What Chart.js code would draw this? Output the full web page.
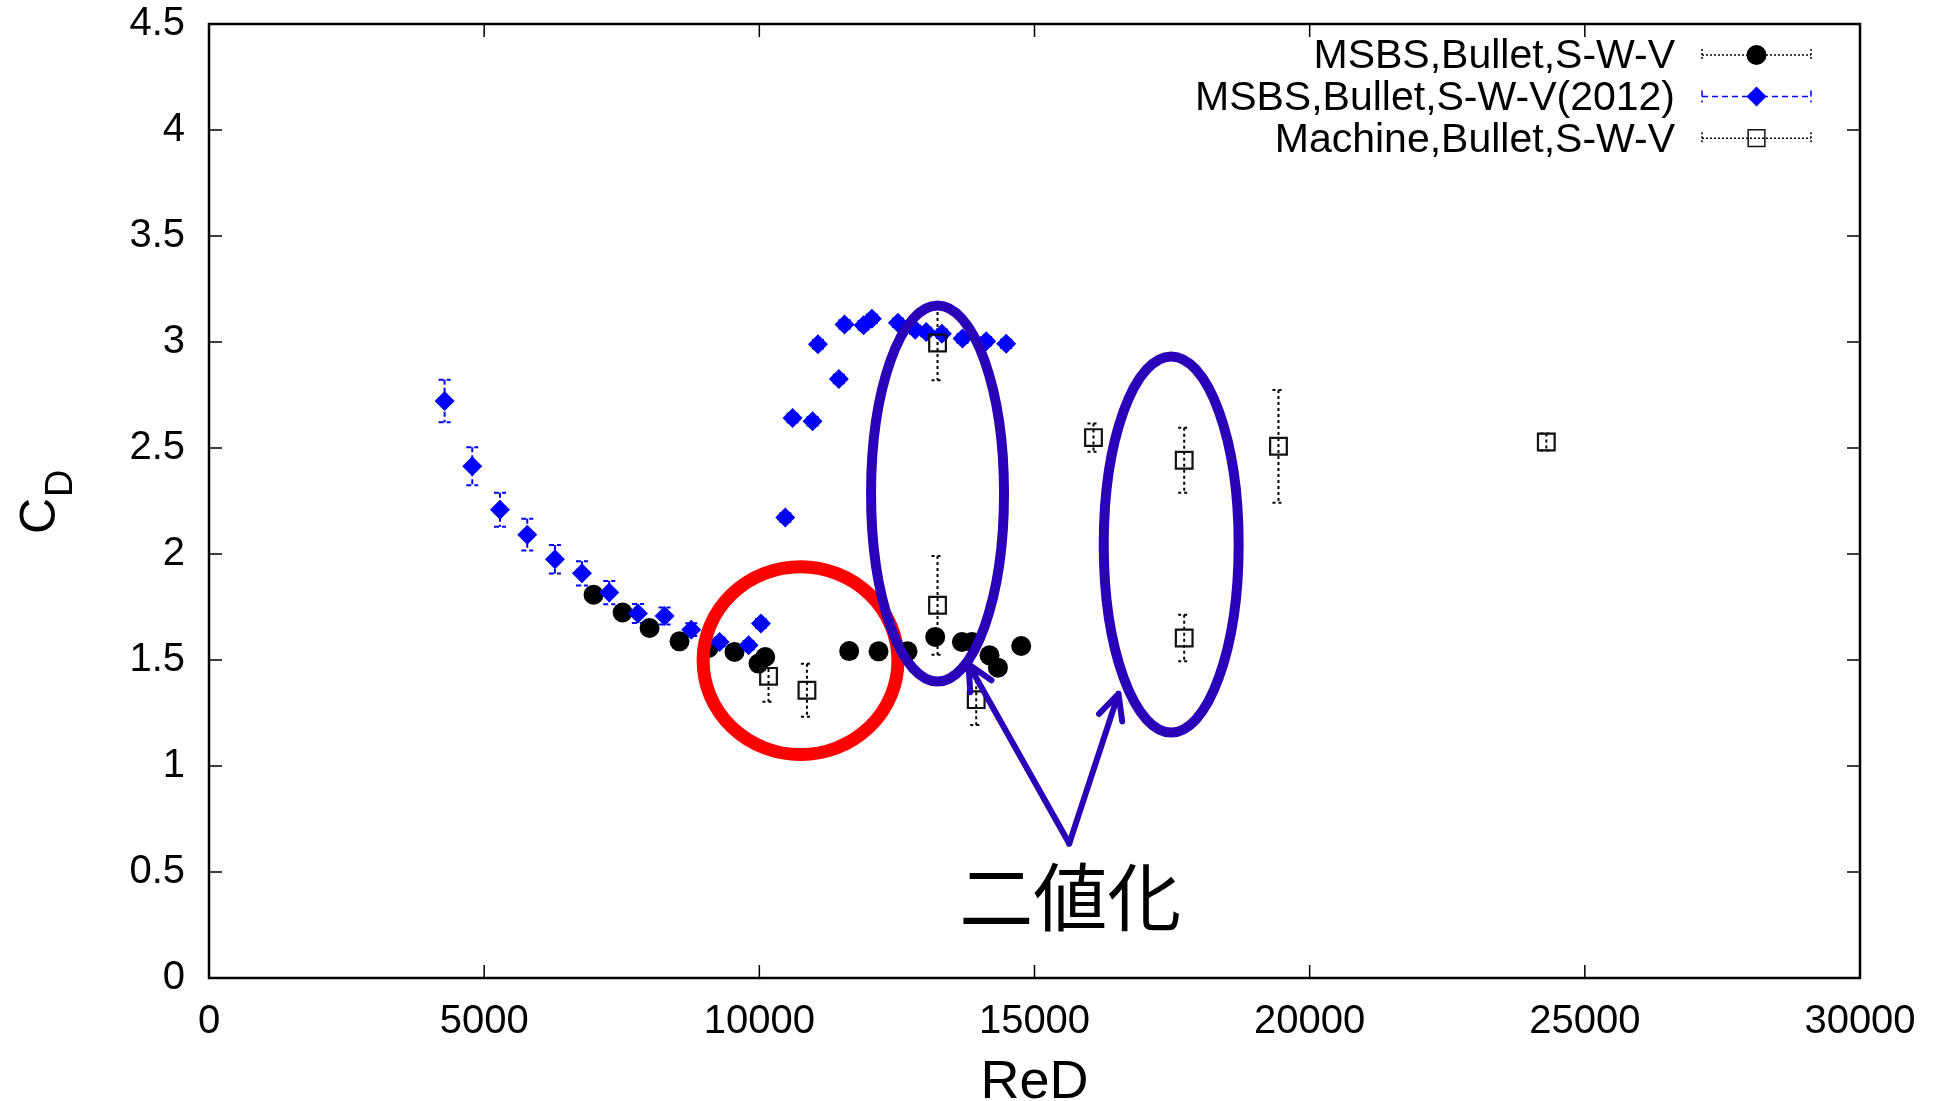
<!DOCTYPE html>
<html>
<head>
<meta charset="utf-8">
<script src="https://cdn.jsdelivr.net/npm/chart.js@4.4.0/dist/chart.umd.min.js"></script>
<style>
  html, body { margin: 0; padding: 0; background: #fff; }
  canvas { display: block; }
</style>
</head>
<body>
<canvas id="cdChart" width="1948" height="1101"></canvas>
<script>
// drag coefficient C_D against Reynolds number Re_D
var msbsRe  = [6988, 7515, 8005, 8550, 9077, 9549, 9985, 10107, 11633, 12166, 12693, 13196, 13681, 13863, 14183, 14335, 14758];
var msbsCd  = [1.808, 1.724, 1.651, 1.588, 1.557, 1.538, 1.483, 1.514, 1.542, 1.541, 1.541, 1.609, 1.585, 1.585, 1.522, 1.464, 1.566];
var msbsErr = [0.02, 0.02, 0.02, 0.02, 0.02, 0.02, 0.02, 0.02, 0.02, 0.02, 0.02, 0.02, 0.02, 0.02, 0.02, 0.02, 0.02];

var msbs2012Re  = [4281, 4784, 5287, 5783, 6286, 6777, 7273, 7794, 8278, 8763, 9278, 9804, 10029, 10471, 10604, 10967, 11065, 11445,
                   11548, 11894, 12045, 12518, 12832, 13032, 13317, 13692, 14122, 14486];
var msbs2012Cd  = [2.722, 2.414, 2.209, 2.091, 1.975, 1.909, 1.818, 1.719, 1.708, 1.643, 1.585, 1.569, 1.672, 2.172, 2.642, 2.626, 2.989, 2.826,
                   3.083, 3.079, 3.110, 3.091, 3.058, 3.047, 3.039, 3.016, 3.003, 2.992];
var msbs2012Err = [0.10, 0.09, 0.08, 0.075, 0.067, 0.057, 0.055, 0.045, 0.04, 0.03, 0.02, 0.02, 0.02, 0.02, 0.02, 0.02, 0.02, 0.02,
                   0.02, 0.02, 0.02, 0.02, 0.02, 0.02, 0.02, 0.02, 0.02, 0.02];

var machineRe  = [10167, 10865, 13238, 13238, 13941, 16072, 17720, 17720, 19433, 24300];
var machineCd  = [1.423, 1.357, 2.995, 1.758, 1.313, 2.549, 2.442, 1.604, 2.508, 2.528];
var machineErr = [0.12, 0.125, 0.175, 0.233, 0.12, 0.067, 0.153, 0.11, 0.266, 0.04];

var xTicks = [0, 5000, 10000, 15000, 20000, 25000, 30000];
var yTicks = [0, 0.5, 1, 1.5, 2, 2.5, 3, 3.5, 4, 4.5];

// hand-drawn marks, placed in data units
var redRing = {x: 10749, y: 1.497, rx: 1770, ry: 0.443};
var blueRings = [
    {x: 13238, y: 2.285, rx: 1208, ry: 0.887},
    {x: 17484, y: 2.045, rx: 1226, ry: 0.887}
];
var arrowFrom = {x: 15631, y: 0.634};
var arrowTips = [{x: 13801, y: 1.48}, {x: 16526, y: 1.341}];
var noteText = '二値化';
var notePos = {x: 15649, y: 0.381};

var FONT = "'Liberation Sans', Arial, sans-serif";
var MARK_BLUE = '#2a00b8';

function toPoints(xs, ys) {
    return xs.map(function (x, i) { return {x: x, y: ys[i]}; });
}

var framePlugin = {
    id: 'frame',
    beforeDatasetsDraw: function (chart) {
        var a = chart.chartArea, ctx = chart.ctx;
        var sx = chart.scales.x, sy = chart.scales.y;
        ctx.save();
        ctx.strokeStyle = '#000';
        ctx.lineWidth = 1.5;
        ctx.beginPath();
        xTicks.forEach(function (v) {
            var px = sx.getPixelForValue(v);
            ctx.moveTo(px, a.bottom); ctx.lineTo(px, a.bottom - 13);
            ctx.moveTo(px, a.top); ctx.lineTo(px, a.top + 13);
        });
        yTicks.forEach(function (v) {
            var py = sy.getPixelForValue(v);
            ctx.moveTo(a.left, py); ctx.lineTo(a.left + 13, py);
            ctx.moveTo(a.right, py); ctx.lineTo(a.right - 13, py);
        });
        ctx.stroke();
        ctx.lineWidth = 2.5;
        ctx.strokeRect(a.left, a.top, a.right - a.left, a.bottom - a.top);

        // axis titles
        ctx.fillStyle = '#000';
        ctx.font = '54px ' + FONT;
        ctx.textAlign = 'center';
        ctx.textBaseline = 'alphabetic';
        ctx.fillText('ReD', (a.left + a.right) / 2, 1098);

        ctx.translate(a.left - 154, (a.top + a.bottom) / 2 + 33);
        ctx.rotate(-Math.PI / 2);
        ctx.textAlign = 'left';
        ctx.font = '50px ' + FONT;
        ctx.fillText('C', 0, 0);
        var w = ctx.measureText('C').width;
        ctx.font = '38px ' + FONT;
        ctx.fillText('D', w + 1, 17);
        ctx.restore();
    }
};

var errorBarPlugin = {
    id: 'errorBars',
    beforeDatasetsDraw: function (chart) {
        var ctx = chart.ctx, sx = chart.scales.x, sy = chart.scales.y;
        chart.data.datasets.forEach(function (ds) {
            if (!ds.errors) return;
            ctx.save();
            ctx.strokeStyle = ds.errorColor;
            ctx.lineWidth = 2;
            ctx.setLineDash(ds.errorDash);
            ds.data.forEach(function (p, i) {
                var px = sx.getPixelForValue(p.x);
                var top = sy.getPixelForValue(p.y + ds.errors[i]);
                var bot = sy.getPixelForValue(p.y - ds.errors[i]);
                ctx.beginPath();
                ctx.moveTo(px, top); ctx.lineTo(px, bot);
                ctx.moveTo(px - 6, top); ctx.lineTo(px + 6, top);
                ctx.moveTo(px - 6, bot); ctx.lineTo(px + 6, bot);
                ctx.stroke();
            });
            ctx.restore();
        });
    }
};

var keyPlugin = {
    id: 'key',
    afterDatasetsDraw: function (chart) {
        var a = chart.chartArea, ctx = chart.ctx;
        var textRight = a.right - 185, lineL = a.right - 158, lineR = a.right - 49;
        ctx.save();
        ctx.font = '41px ' + FONT;
        ctx.textAlign = 'right';
        ctx.textBaseline = 'middle';
        chart.data.datasets.forEach(function (ds, i) {
            var y = a.top + 31 + i * 41.6;
            ctx.fillStyle = '#000';
            ctx.fillText(ds.label, textRight, y + 2);
            ctx.strokeStyle = ds.errorColor;
            ctx.lineWidth = 1.5;
            ctx.setLineDash(ds.keyDash);
            ctx.beginPath();
            ctx.moveTo(lineL, y); ctx.lineTo(lineR, y);
            ctx.moveTo(lineL, y - 6); ctx.lineTo(lineL, y + 6);
            ctx.moveTo(lineR, y - 6); ctx.lineTo(lineR, y + 6);
            ctx.stroke();
            ctx.setLineDash([]);
            ctx.fillStyle = ds.backgroundColor;
            ctx.strokeStyle = ds.borderColor;
            Chart.helpers.drawPoint(ctx, {
                pointStyle: ds.pointStyle,
                radius: ds.pointRadius,
                borderWidth: ds.borderWidth,
                rotation: 0
            }, (lineL + lineR) / 2, y);
        });
        ctx.restore();
    }
};

var notesPlugin = {
    id: 'notes',
    afterDraw: function (chart) {
        var ctx = chart.ctx, sx = chart.scales.x, sy = chart.scales.y;
        function px(v) { return sx.getPixelForValue(v); }
        function py(v) { return sy.getPixelForValue(v); }
        function ring(r) {
            var cx = px(r.x), cy = py(r.y);
            ctx.beginPath();
            ctx.ellipse(cx, cy, px(r.x + r.rx) - cx, cy - py(r.y + r.ry), 0, 0, Math.PI * 2);
            ctx.stroke();
        }
        ctx.save();
        ctx.strokeStyle = '#ff0000';
        ctx.lineWidth = 13;
        ring(redRing);

        ctx.strokeStyle = MARK_BLUE;
        ctx.lineWidth = 10;
        blueRings.forEach(ring);

        ctx.lineWidth = 6;
        ctx.lineCap = 'round';
        var x0 = px(arrowFrom.x), y0 = py(arrowFrom.y);
        arrowTips.forEach(function (t) {
            var x1 = px(t.x), y1 = py(t.y);
            var ang = Math.atan2(y1 - y0, x1 - x0);
            ctx.beginPath();
            ctx.moveTo(x0, y0); ctx.lineTo(x1, y1);
            [-0.45, 0.45].forEach(function (d) {
                ctx.moveTo(x1, y1);
                ctx.lineTo(x1 - 28 * Math.cos(ang + d), y1 - 28 * Math.sin(ang + d));
            });
            ctx.stroke();
        });

        ctx.fillStyle = '#000';
        ctx.font = "74px 'Noto Sans CJK JP', sans-serif";
        ctx.textAlign = 'center';
        ctx.textBaseline = 'middle';
        ctx.fillText(noteText, px(notePos.x), py(notePos.y));
        ctx.restore();
    }
};

new Chart(document.getElementById('cdChart'), {
    type: 'scatter',
    data: {
        datasets: [
            {
                label: 'MSBS,Bullet,S-W-V',
                data: toPoints(msbsRe, msbsCd),
                errors: msbsErr,
                errorColor: '#000',
                errorDash: [3, 3],
                keyDash: [2, 2],
                pointStyle: 'circle',
                pointRadius: 10,
                backgroundColor: '#000',
                borderColor: '#000',
                borderWidth: 0,
                order: 3
            },
            {
                label: 'MSBS,Bullet,S-W-V(2012)',
                data: toPoints(msbs2012Re, msbs2012Cd),
                errors: msbs2012Err,
                errorColor: '#0000ff',
                errorDash: [5, 3],
                keyDash: [6, 4],
                pointStyle: 'rectRot',
                pointRadius: 10,
                backgroundColor: '#0000ff',
                borderColor: '#0000ff',
                borderWidth: 0,
                order: 2
            },
            {
                label: 'Machine,Bullet,S-W-V',
                data: toPoints(machineRe, machineCd),
                errors: machineErr,
                errorColor: '#000',
                errorDash: [3, 3],
                keyDash: [2, 2],
                pointStyle: 'rect',
                pointRadius: 11.8,
                backgroundColor: 'rgba(0,0,0,0)',
                borderColor: '#111',
                borderWidth: 2.2,
                order: 1
            }
        ]
    },
    options: {
        responsive: false,
        devicePixelRatio: 1,
        animation: false,
        layout: {padding: {left: 0, top: 24, right: 88, bottom: 0}},
        plugins: {legend: {display: false}, tooltip: {enabled: false}},
        elements: {point: {hoverRadius: 0}},
        scales: {
            x: {
                type: 'linear',
                min: 0,
                max: 30000,
                grid: {display: false},
                border: {display: false},
                afterBuildTicks: function (scale) {
                    scale.ticks = xTicks.map(function (v) { return {value: v}; });
                },
                afterFit: function (scale) {
                    scale.height = 123;
                    scale.paddingLeft = 0;
                    scale.paddingRight = 0;
                },
                ticks: {
                    color: '#000',
                    padding: 12,
                    maxRotation: 0,
                    autoSkip: false,
                    font: {family: FONT, size: 40},
                    callback: function (v) { return String(v); }
                }
            },
            y: {
                type: 'linear',
                min: 0,
                max: 4.5,
                grid: {display: false},
                border: {display: false},
                afterBuildTicks: function (scale) {
                    scale.ticks = yTicks.map(function (v) { return {value: v}; });
                },
                afterFit: function (scale) {
                    scale.width = 209;
                    scale.paddingTop = 0;
                    scale.paddingBottom = 0;
                },
                ticks: {
                    color: '#000',
                    padding: 16,
                    autoSkip: false,
                    font: {family: FONT, size: 40},
                    callback: function (v) { return String(v); }
                }
            }
        }
    },
    plugins: [framePlugin, errorBarPlugin, keyPlugin, notesPlugin]
});
</script>
</body>
</html>
